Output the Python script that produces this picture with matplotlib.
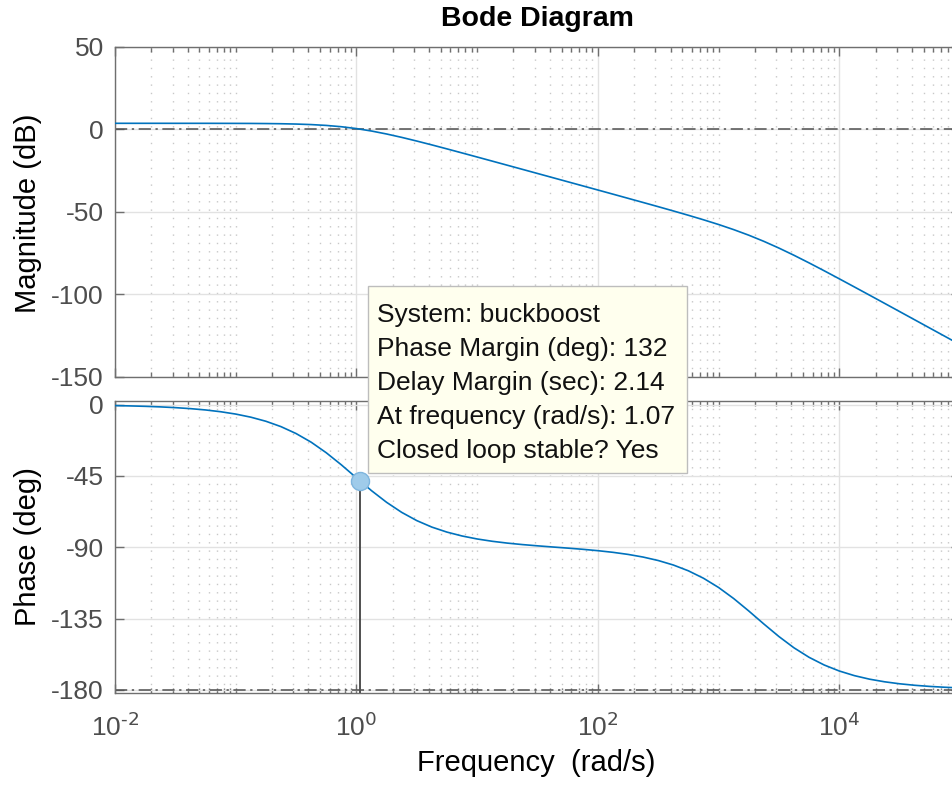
import numpy as np
import matplotlib
matplotlib.use('Agg')
import matplotlib.pyplot as plt
from matplotlib.ticker import FixedLocator, FuncFormatter, NullFormatter
from matplotlib.patches import Rectangle

plt.rcParams['font.family'] = ['Liberation Sans', 'DejaVu Sans']
plt.rcParams['axes.unicode_minus'] = False
plt.rcParams['mathtext.default'] = 'regular'

# open-loop response of the buckboost model, sampled every 1/8 decade from 1e-2 to 1e5 rad/s
freq_exp = np.linspace(-2, 5, 57)
mag_db = [3.52, 3.52, 3.52, 3.52, 3.51, 3.51, 3.51, 3.49, 3.47, 3.44,
          3.37, 3.26, 3.07, 2.75, 2.24, 1.45, 0.33, -1.15, -2.95, -4.99,
          -7.22, -9.55, -11.96, -14.41, -16.88, -19.36, -21.85, -24.34, -26.84, -29.34,
          -31.84, -34.34, -36.84, -39.35, -41.87, -44.39, -46.93, -49.51, -52.14, -54.86,
          -57.72, -60.81, -64.18, -67.91, -71.98, -76.35, -80.96, -85.72, -90.58, -95.50,
          -100.45, -105.42, -110.41, -115.40, -120.40, -125.39, -130.39]
phase_deg = [-0.6, -0.8, -1.06, -1.41, -1.89, -2.52, -3.35, -4.47, -5.95, -7.91,
             -10.49, -13.88, -18.24, -23.7, -30.36, -37.99, -46.2, -54.3, -61.66, -68.0,
             -73.2, -77.3, -80.46, -82.9, -84.79, -86.25, -87.4, -88.33, -89.12, -89.85,
             -90.56, -91.31, -92.18, -93.22, -94.53, -96.21, -98.39, -101.22, -104.89, -109.58,
             -115.41, -122.38, -130.23, -138.45, -146.38, -153.51, -159.5, -164.34, -168.13, -171.05,
             -173.28, -174.94, -176.2, -177.15, -177.86, -178.4, -178.8]

# stability margins
system_name = 'buckboost'
phase_margin = 132
delay_margin = 2.14
pm_freq = 1.07
stable = 'Yes'

mag_ticks = [50, 0, -50, -100, -150]
phase_ticks = [0, -45, -90, -135, -180]
freq_ticks = [1e-2, 1e0, 1e2, 1e4]

freq = 10.0 ** freq_exp

W, H = 952, 785
fig = plt.figure(figsize=(W / 100, H / 100), dpi=100)
ax_mag = fig.add_axes([115 / W, 1 - 377 / H, 845 / W, 330.5 / H])
ax_ph = fig.add_axes([115 / W, 1 - 692.5 / H, 845 / W, 291.5 / H])

blue = '#0072BD'
spine_c = '#6f6f6f'
ref_c = '#505050'

minor = [m * 10.0 ** k for k in range(-2, 5) for m in range(2, 11) if m * 10.0 ** k not in freq_ticks]

for ax in (ax_mag, ax_ph):
    ax.set_xscale('log')
    ax.set_xlim(1e-2, 1e5)
    ax.xaxis.set_major_locator(FixedLocator(freq_ticks))
    ax.xaxis.set_minor_locator(FixedLocator(minor))
    ax.xaxis.set_minor_formatter(NullFormatter())
    ax.grid(which='major', color='#e2e2e2', lw=1.0, ls='-')
    ax.grid(which='minor', axis='x', color='#c8c8c8', lw=1.0, ls=(0, (1, 5)))
    ax.set_axisbelow(True)
    ax.tick_params(which='both', direction='in', top=True, right=True, color=spine_c, width=1)
    ax.tick_params(which='major', length=6.5, labelsize=19, labelcolor='#4d4d4d', pad=8)
    ax.tick_params(which='minor', length=3.5)
    for s in ax.spines.values():
        s.set_color(spine_c)
        s.set_linewidth(1.0)

# magnitude
ax_mag.plot(freq, mag_db, color=blue, lw=1.2, zorder=3)
ax_mag.axhline(0, color=ref_c, lw=1.1, dashes=(8, 3, 1.5, 3), zorder=2)
ax_mag.set_ylim(-150, 50)
ax_mag.set_yticks(mag_ticks)
ax_mag.tick_params(axis='x', labelbottom=False)

# phase
ax_ph.plot(freq, phase_deg, color=blue, lw=1.2, zorder=3)
ax_ph.axhline(-180, color=ref_c, lw=1.1, dashes=(8, 3, 1.5, 3), zorder=2)
pm_phase = phase_margin - 180
ax_ph.set_ylim(-181.7, 2.3)
ax_ph.plot([pm_freq, pm_freq], [-181.7, pm_phase], color=ref_c, lw=1.4, zorder=3)
ax_ph.plot([pm_freq], [pm_phase], 'o', ms=13, mfc='#9fcbea', mec='#7fb5de', mew=1, zorder=4)
ax_ph.set_yticks(phase_ticks)
ax_ph.xaxis.set_major_formatter(
    FuncFormatter(lambda v, p: r'$\mathdefault{10^{\text{%d}}}$' % round(np.log10(v))))
ax_ph.tick_params(axis='x', pad=15)

# titles and labels
fig.text(537 / W, 1 - 26 / H, 'Bode Diagram', ha='center', va='baseline', fontsize=20.5, fontweight='bold')
fig.text(28 / W, 1 - 213 / H, 'Magnitude (dB)', rotation=90, ha='center', va='center', fontsize=21)
fig.text(28 / W, 1 - 546.5 / H, 'Phase (deg)', rotation=90, ha='center', va='center', fontsize=21)
fig.text(536 / W, 1 - 771 / H, 'Frequency  (rad/s)', ha='center', va='baseline', fontsize=21)

# data tip
fig.add_artist(Rectangle((368 / W, 1 - 473 / H), (687 - 368) / W, (473 - 286) / H,
                         transform=fig.transFigure, facecolor='#ffffee', edgecolor='#bdbdbd', lw=1, zorder=5))
tip = ['System: %s' % system_name,
       'Phase Margin (deg): %d' % phase_margin,
       'Delay Margin (sec): %.2f' % delay_margin,
       'At frequency (rad/s): %.2f' % pm_freq,
       'Closed loop stable? %s' % stable]
for i, line in enumerate(tip):
    fig.text(377 / W, 1 - (322 + 34 * i) / H, line, ha='left', va='baseline', fontsize=19, color='#111111', zorder=6)

fig.savefig('out.png', dpi=100)
